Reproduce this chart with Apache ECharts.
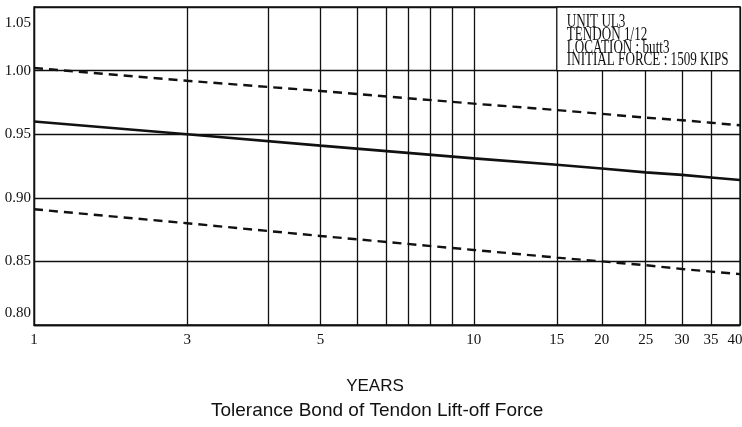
<!DOCTYPE html>
<html>
<head>
<meta charset="utf-8">
<script src="https://cdn.jsdelivr.net/npm/echarts@6/dist/echarts.min.js"></script>
<style>
html,body{margin:0;padding:0;background:#fff;}
#chart{width:742px;height:427px;}
</style>
</head>
<body>
<div id="chart"></div>
<script>
// ---- data ----
const years = [1, 3, 5, 10, 15, 20, 25, 30, 35, 40];
const upperBound = [1.002, 0.992, 0.984, 0.974, 0.969, 0.966, 0.963, 0.961, 0.959, 0.957];
const meanForce  = [0.960, 0.950, 0.941, 0.931, 0.926, 0.923, 0.920, 0.918, 0.916, 0.914];
const lowerBound = [0.891, 0.880, 0.870, 0.859, 0.853, 0.850, 0.847, 0.844, 0.842, 0.840];
const xTickLabels = [1, 3, 5, 10, 15, 20, 25, 30, 35, 40];
const xGridYears = [1, 3, 4, 5, 6, 7, 8, 9, 9.5, 10, 15, 20, 25, 30, 35, 40];
const yTickLabels = [0.80, 0.85, 0.90, 0.95, 1.00, 1.05];
const infoLines = ['UNIT UL3', 'TENDON 1/12', 'LOCATION : butt3', 'INITIAL FORCE : 1509 KIPS'];

// ---- the (irregular) time scale of the original graph paper ----
const paperScaleYears = [1, 3, 4, 5, 6, 7, 8, 9, 9.5, 10, 15, 20, 25, 30, 35, 40];
const paperScaleFrac  = [0, 0.2169, 0.3325, 0.4057, 0.4575, 0.4991, 0.5302, 0.5608, 0.5919, 0.6230, 0.7405, 0.8042, 0.8664, 0.9179, 0.9590, 1];

function interp(v, xs, ys) {
  if (v <= xs[0]) return ys[0];
  for (let i = 1; i < xs.length; i++) {
    if (v <= xs[i]) {
      const t = (v - xs[i - 1]) / (xs[i] - xs[i - 1]);
      return ys[i - 1] + t * (ys[i] - ys[i - 1]);
    }
  }
  return ys[ys.length - 1];
}
const toScale = y => interp(y, paperScaleYears, paperScaleFrac);
const fromScale = f => interp(f, paperScaleFrac, paperScaleYears);

const pairs = vals => years.map((y, i) => [toScale(y), vals[i]]);

const serifFont = '"Liberation Serif", "Times New Roman", serif';
const sansFont = '"Liberation Sans", Arial, sans-serif';

const chart = echarts.init(document.getElementById('chart'), null, {renderer: 'canvas'});

const option = {
  backgroundColor: '#fff',
  animation: false,
  title: {
    text: 'Tolerance Bond of Tendon Lift-off Force',
    left: 206,
    top: 396,
    textStyle: {fontFamily: sansFont, fontSize: 19, fontWeight: 'normal', color: '#111'}
  },
  grid: {
    left: 34, right: 2, top: 7, bottom: 102,
    outerBoundsMode: 'none',
    containLabel: false,
    show: true, borderColor: '#111', borderWidth: 1.3, backgroundColor: 'transparent'
  },
  xAxis: {
    type: 'value',
    min: 0, max: 1,
    name: 'YEARS',
    nameLocation: 'middle',
    nameGap: 53,
    nameTextStyle: {fontFamily: sansFont, fontSize: 17, color: '#111', padding: [0, 24, 0, 0]},
    axisLine: {show: true, lineStyle: {color: '#111', width: 1.3}},
    axisTick: {show: false, customValues: xGridYears.map(toScale)},
    axisLabel: {
      customValues: xTickLabels.map(toScale),
      margin: 8,
      fontFamily: serifFont, fontSize: 15, color: '#111',
      formatter: v => {
        const yr = Math.round(fromScale(v) * 10) / 10;
        return yr === xTickLabels[xTickLabels.length - 1] ? '{last|' + yr + '}' : String(yr);
      },
      rich: {
        last: {fontFamily: serifFont, fontSize: 15, color: '#111', padding: [0, 10, 0, 0]}
      }
    },
    splitLine: {show: true, lineStyle: {color: '#111', width: 1.3}}
  },
  yAxis: {
    type: 'value',
    min: 0.80, max: 1.05, interval: 0.05,
    axisLine: {show: true, lineStyle: {color: '#111', width: 1.3}},
    axisTick: {show: false},
    axisLabel: {
      margin: 3,
      fontFamily: serifFont, fontSize: 15, color: '#111',
      formatter: v => {
        const s = v.toFixed(2);
        if (Math.abs(v - yTickLabels[yTickLabels.length - 1]) < 1e-6) return '{top|' + s + '}';
        if (Math.abs(v - yTickLabels[0]) < 1e-6) return '{bot|' + s + '}';
        return s;
      },
      rich: {
        top: {fontFamily: serifFont, fontSize: 15, color: '#111', padding: [32, 0, 0, 0]},
        bot: {fontFamily: serifFont, fontSize: 15, color: '#111', padding: [0, 0, 24, 0]}
      }
    },
    splitLine: {show: true, lineStyle: {color: '#111', width: 1.3}}
  },
  series: [
    {
      name: 'Upper bound', type: 'line', data: pairs(upperBound), symbol: 'none', z: 3,
      lineStyle: {color: '#111', width: 2.4, type: [9, 6]}
    },
    {
      name: 'Predicted force', type: 'line', data: pairs(meanForce), symbol: 'none', z: 3,
      lineStyle: {color: '#111', width: 2.6, type: 'solid'}
    },
    {
      name: 'Lower bound', type: 'line', data: pairs(lowerBound), symbol: 'none', z: 3,
      lineStyle: {color: '#111', width: 2.4, type: [9, 6]}
    }
  ]
};
chart.setOption(option);

// info box in the upper right corner, aligned with the grid of the paper
const p1 = chart.convertToPixel({gridIndex: 0}, [toScale(15), 1.05]);
const p2 = chart.convertToPixel({gridIndex: 0}, [toScale(40), 1.00]);
chart.setOption({
  graphic: [
    {
      type: 'rect', z: 10,
      shape: {x: p1[0], y: p1[1], width: p2[0] - p1[0], height: p2[1] - p1[1]},
      style: {fill: '#fff', stroke: '#111', lineWidth: 1.3}
    },
    {
      type: 'text', z: 11,
      x: p1[0] + 10, y: p1[1] + 9,
      scaleX: 0.69,
      style: {
        text: infoLines.join('\n'),
        font: '19px ' + serifFont,
        lineHeight: 12.7,
        fill: '#111',
        textVerticalAlign: 'top'
      }
    }
  ]
});
</script>
</body>
</html>
